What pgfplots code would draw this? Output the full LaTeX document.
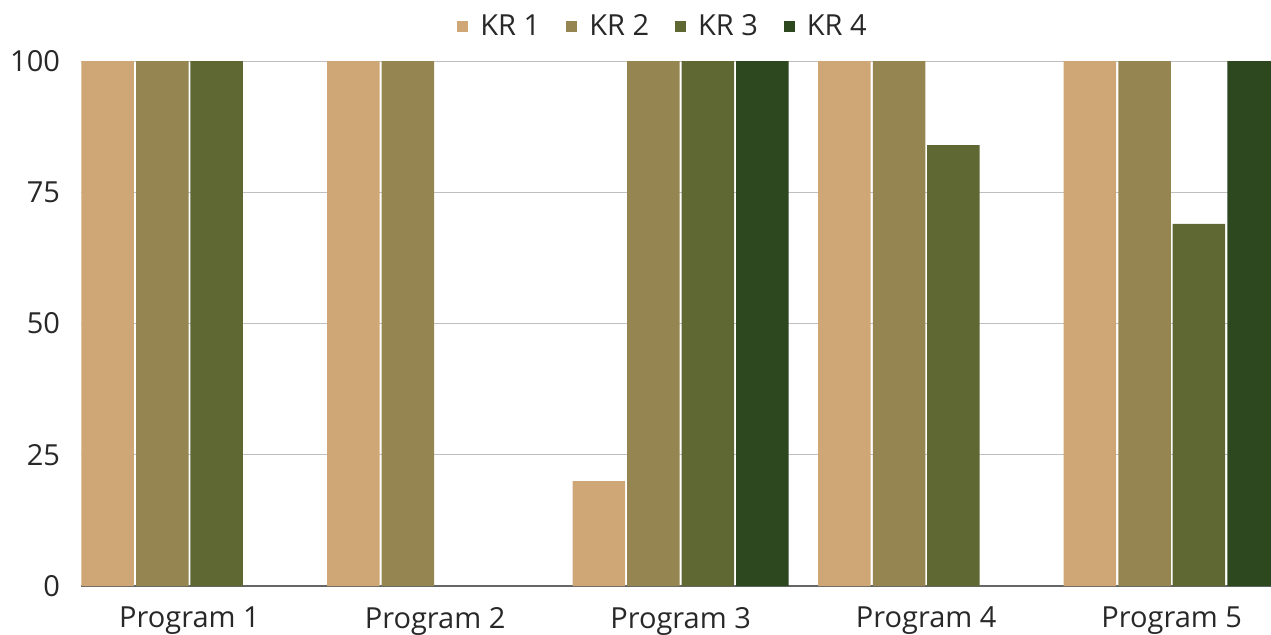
\documentclass[border=0pt]{standalone}
\usepackage{fontspec}
\setmainfont{Open Sans}
\usepackage{pgfplots}
\pgfplotsset{compat=1.18}
\definecolor{kra}{RGB}{207,166,117}
\definecolor{krb}{RGB}{149,133,80}
\definecolor{krc}{RGB}{95,103,51}
\definecolor{krd}{RGB}{45,71,30}
\definecolor{txt}{RGB}{40,40,40}
\pgfplotsset{
  sqleg/.style={legend image code/.code={\fill[##1,draw=none] (0pt,-2.75pt) rectangle (5.5pt,2.75pt); \path (9.5pt,0pt);}}
}
\begin{document}
\begin{tikzpicture}
\useasboundingbox (0,0) rectangle (635.5pt,317pt);
\begin{axis}[
  at={(40.5pt,24pt)}, anchor=south west,
  scale only axis, width=595pt, height=262.5pt,
  xmin=-0.442, xmax=4.404, ymin=0, ymax=100,
  ybar, bar width=26.25pt,
  axis line style={draw=none},
  major tick length=0pt,
  xtick={0,1,2,3,4},
  xticklabels={Program 1,Program 2,Program 3,Program 4,Program 5},
  ytick={25,50,75,100},
  extra y ticks={0},
  extra y tick style={grid style={draw=black!60, line width=0.8pt}},
  ymajorgrids,
  grid style={draw=black!25, line width=0.5pt},
  /pgf/number format/assume math mode=true,
  tick label style={font=\fontsize{14.5}{17}\selectfont, text=txt},
  yticklabel style={xshift=-7pt},
  xticklabel style={yshift=-7pt},
  legend columns=4,
  legend style={draw=none, fill=none, at={(axis description cs:0.49,1.065)}, anchor=center,
    font=\fontsize{14.5}{17}\selectfont, text=txt,
    /tikz/every even column/.append style={column sep=11pt}},
]
\addplot[fill=kra, draw=none, bar shift=-40.9pt, sqleg] coordinates {(0,100) (1,100) (2,20) (3,100) (4,100)};
\addplot[fill=krb, draw=none, bar shift=-13.6pt, sqleg] coordinates {(0,100) (1,100) (2,100) (3,100) (4,100)};
\addplot[fill=krc, draw=none, bar shift=13.6pt, sqleg] coordinates {(0,100) (2,100) (3,84) (4,69)};
\addplot[fill=krd, draw=none, bar shift=40.9pt, sqleg] coordinates {(2,100) (4,100)};
\legend{KR 1,KR 2,KR 3,KR 4}
\end{axis}
\end{tikzpicture}
\end{document}
